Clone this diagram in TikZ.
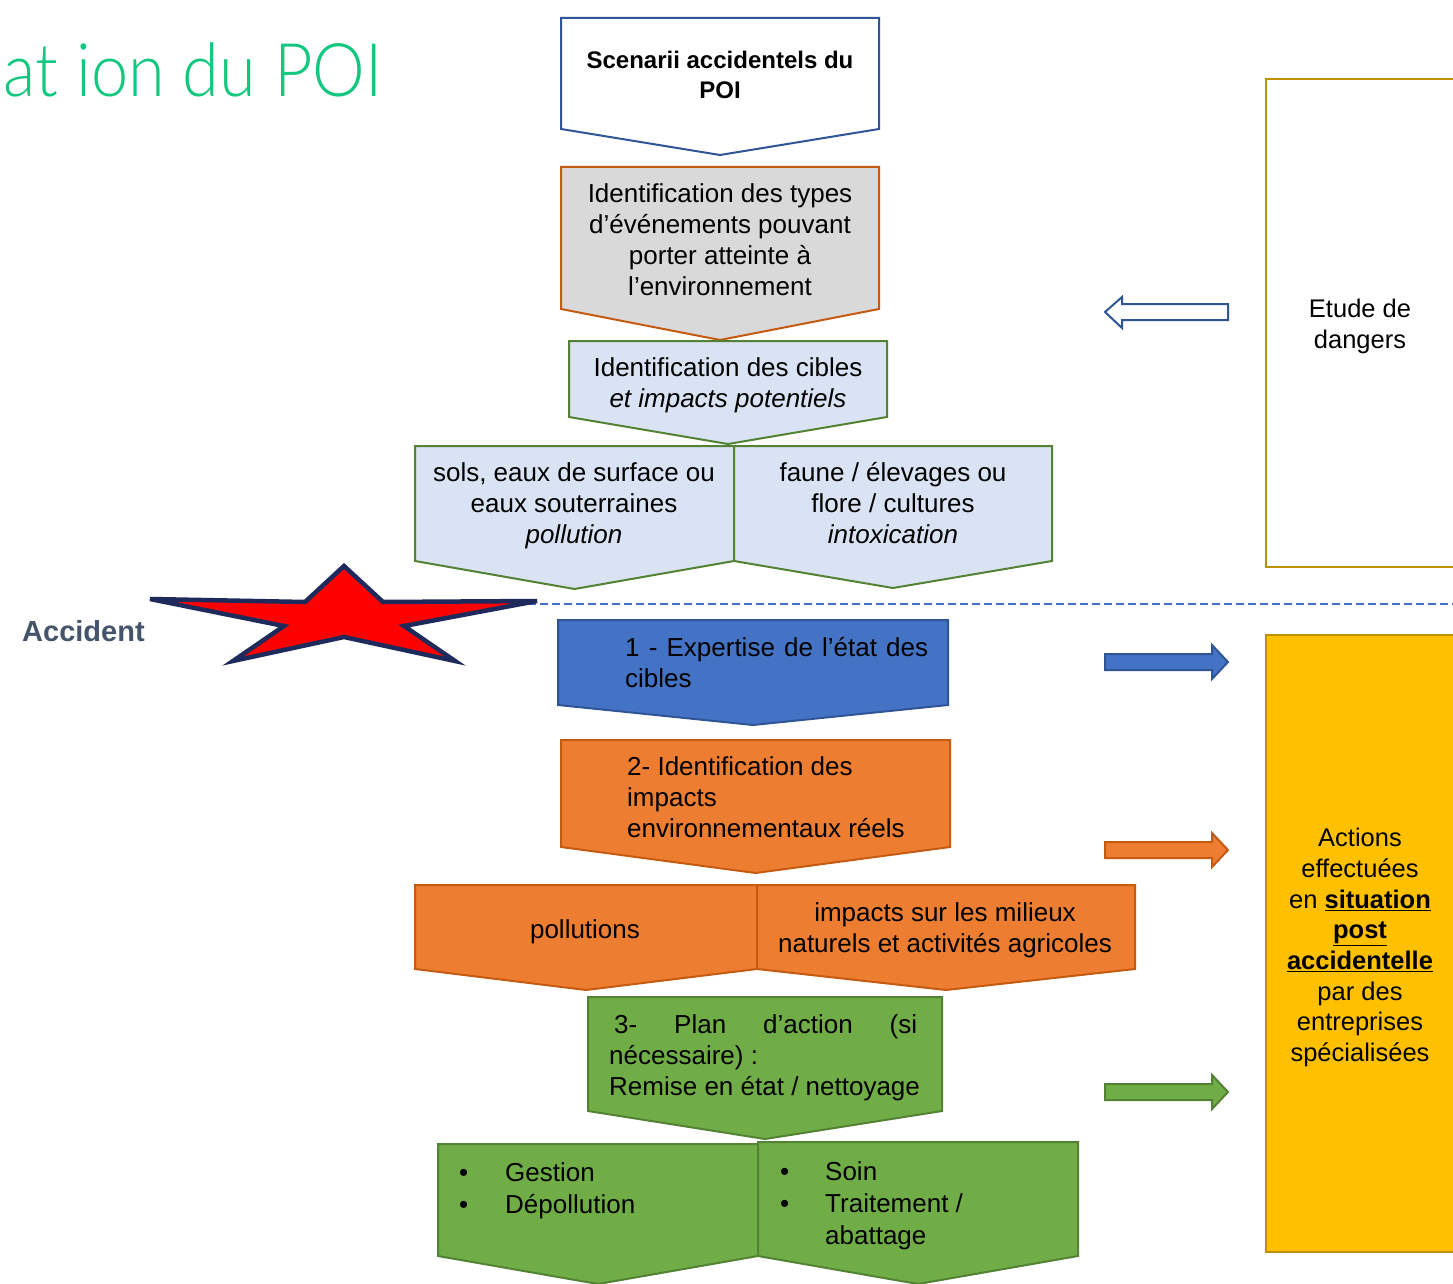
\documentclass[tikz,border=0pt]{standalone}
\usepackage{fontspec}
\setmainfont{Liberation Sans}
\newfontfamily\titlefont{Lato Light}[FakeStretch=0.9]
\definecolor{bdrblue}{HTML}{2F5597}
\definecolor{fillblue}{HTML}{4472C4}
\definecolor{bdrorange}{HTML}{C55A11}
\definecolor{fillorange}{HTML}{ED7D31}
\definecolor{bdrgreen}{HTML}{548235}
\definecolor{fillgreen}{HTML}{70AD47}
\definecolor{boxlblue}{HTML}{DAE3F3}
\definecolor{boxgray}{HTML}{D9D9D9}
\definecolor{goldfill}{HTML}{FFC000}
\definecolor{goldbdr}{HTML}{BF9000}
\definecolor{titlegreen}{HTML}{12C77E}
\definecolor{starnavy}{HTML}{1F2A5C}
\definecolor{accgray}{HTML}{44546A}
\newcommand\chevshape[6]{\filldraw[#1] (#2,#4) -- (#3,#4) -- (#3,#5) -- ({(#2+#3)/2},#6) -- (#2,#5) -- cycle;}
\newcommand\blockarrow[2]{\filldraw[#1] (1105,#2-8) -- (1212,#2-8) -- (1212,#2-17) -- (1228,#2) -- (1212,#2+17) -- (1212,#2+8) -- (1105,#2+8) -- cycle;}
\begin{document}
\begin{tikzpicture}[x=1pt,y=-1pt,
  chev/.style={line width=2pt,line join=miter},
  txt/.style={font=\fontsize{26}{31}\selectfont,align=center,inner sep=0pt,
    execute at begin node=\strut,execute at end node=\strut},
  ltxt/.style={txt,align=left,anchor=west},
  arrowshape/.style={line width=2pt,line join=miter}]
\useasboundingbox (0,0) rectangle (1453,1284);
\clip (0,0) rectangle (1453,1284);
\fill[white] (0,0) rectangle (1453,1284);

% title
\node[anchor=base east,inner sep=0pt,text=titlegreen,font=\titlefont\fontsize{74}{80}\selectfont] (title) at (383,97) {at ion du POI};

% upper chain
\chevshape{chev,draw=bdrblue,fill=white}{561}{879}{18}{129}{155}
\node[txt,font=\bfseries\fontsize{24}{30}\selectfont] (scen) at (720,79) {Scenarii accidentels du\\POI};

\chevshape{chev,draw=bdrorange,fill=boxgray}{561}{879}{167}{309}{340}
\node[txt] (types) at (720,244.5) {Identification des types\\d’événements pouvant\\porter atteinte à\\l’environnement};

\chevshape{chev,draw=bdrgreen,fill=boxlblue}{569}{887}{341}{417}{444}
\node[txt] (cibles) at (728,387.5) {Identification des cibles\\\textit{et impacts potentiels}};

\chevshape{chev,draw=bdrgreen,fill=boxlblue}{415}{734}{446}{561}{589}
\node[txt] (sols) at (574,508) {sols, eaux de surface ou\\eaux souterraines\\\textit{pollution}};
\chevshape{chev,draw=bdrgreen,fill=boxlblue}{734}{1052}{446}{561}{588}
\node[txt] (faune) at (893,508) {faune / élevages ou\\flore / cultures\\\textit{intoxication}};

% accident line and star
\draw[fillblue,line width=2.5pt,dash pattern=on 8pt off 4pt] (480,604) -- (1453,604);
\filldraw[fill=red,draw=starnavy,line width=4.5pt,line join=miter] (344,566) -- (383,602) -- (537,601) -- (404,626) -- (455,661) -- (344,637) -- (233,661) -- (284,626) -- (150,599) -- (305,602) -- cycle;
\node[anchor=base west,inner sep=0pt,text=accgray,font=\bfseries\fontsize{29}{34}\selectfont] (acc) at (22,641) {Accident};

% lower chain
\chevshape{chev,draw=bdrblue,fill=fillblue}{558}{948}{620}{705}{725}
\node[ltxt] (step1) at (625,667.5) {\makebox[303pt][s]{1 - Expertise de l’état des}\\cibles};

\chevshape{chev,draw=bdrorange,fill=fillorange}{561}{950}{740}{847}{873}
\node[ltxt] (step2) at (627,802) {2- Identification des\\impacts\\environnementaux réels};

\chevshape{chev,draw=bdrorange,fill=fillorange}{415}{757}{885}{969}{990}
\node[txt] (poll) at (585,932) {pollutions};
\chevshape{chev,draw=bdrorange,fill=fillorange}{757}{1135}{885}{969}{990}
\node[txt] (milieux) at (945,932.5) {impacts sur les milieux\\naturels et activités agricoles};

\chevshape{chev,draw=bdrgreen,fill=fillgreen}{588}{942}{997}{1111}{1139}
\node[ltxt] (step3) at (609,1059.5) {\hspace*{5pt}\makebox[303pt][s]{3- Plan d’action (si}\\nécessaire) :\\Remise en état / nettoyage};

\chevshape{chev,draw=bdrgreen,fill=fillgreen}{438}{758}{1144}{1256}{1284}
\node[ltxt,font=\fontsize{26}{32}\selectfont] (gest) at (459,1193) {\makebox[46pt][l]{•}Gestion\\\makebox[46pt][l]{•}Dépollution};
\chevshape{chev,draw=bdrgreen,fill=fillgreen}{758}{1078}{1142}{1256}{1284}
\node[ltxt,font=\fontsize{26}{32}\selectfont] (soin) at (780,1208) {\makebox[45pt][l]{•}Soin\\\makebox[45pt][l]{•}Traitement /\\\hspace*{45pt}abattage};

% right side
\draw[draw=goldbdr,line width=2pt] (1266,79) rectangle (1475,567);
\node[txt,font=\fontsize{25.5}{31}\selectfont] (etude) at (1360,328.5) {Etude de\\dangers};
\filldraw[draw=bdrblue,fill=white,arrowshape] (1105,312) -- (1122,297) -- (1122,304) -- (1228,304) -- (1228,320) -- (1122,320) -- (1122,328) -- cycle;

\filldraw[draw=goldbdr,fill=goldfill,line width=2pt] (1266,635) rectangle (1475,1252);
\node[txt,font=\fontsize{25.5}{30.7}\selectfont] (actions) at (1360,949.5) {Actions\\effectuées\\en \underline{\textbf{situation}}\\\underline{\textbf{post}}\\\underline{\textbf{accidentelle}}\\par des\\entreprises\\spécialisées};

\blockarrow{arrowshape,draw=bdrblue,fill=fillblue}{662}
\blockarrow{arrowshape,draw=bdrorange,fill=fillorange}{850}
\blockarrow{arrowshape,draw=bdrgreen,fill=fillgreen}{1092}
\end{tikzpicture}
\end{document}
